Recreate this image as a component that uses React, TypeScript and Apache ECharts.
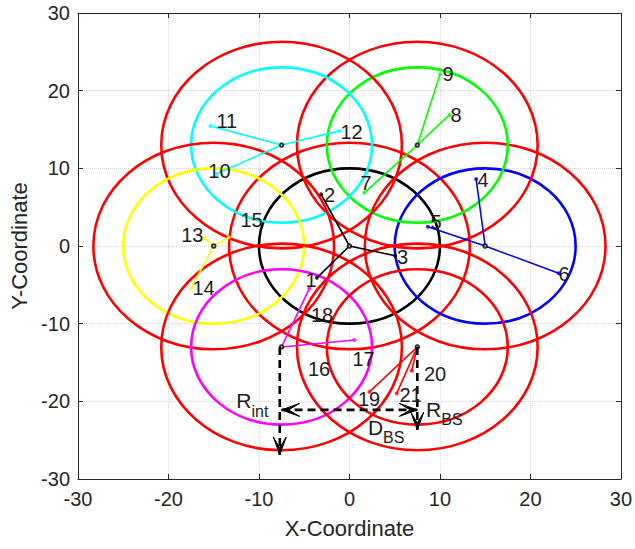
import React, { useEffect, useRef } from 'react';
import * as echarts from 'echarts';

const FONT = '"Liberation Sans", Arial, Helvetica, sans-serif';
const INK = '#262626';

// axis extent and ticks
const axisMin = -30;
const axisMax = 30;
const axisStep = 10;

// hexagonal cell layout: base station positions and cell colours
const cellX = [0, 15, 7.5, -7.5, -15, -7.5, 7.5];
const cellY = [0, 0, 13, 13, 0, -13, -13];
const cellColors = ['#000000', '#0000ff', '#00ff00', '#00ffff', '#ffff00', '#ff00ff', '#ff0000'];
const coverageRadius = 10;
const interferenceRadius = 13.3;
const interferenceColor = '#ff0000';

// users: id, serving cell, position
const userIds = [1, 2, 3, 4, 5, 6, 7, 8, 9, 10, 11, 12, 13, 14, 15, 16, 17, 18, 19, 20, 21];
const userCell = [0, 0, 0, 1, 1, 1, 2, 2, 2, 3, 3, 3, 4, 4, 4, 5, 5, 5, 6, 6, 6];
const userX = [-3.6, -3.13, 5.05, 14.0, 8.66, 23.13, 1.66, 11.05, 10.02, -14.73, -15.36, -1.1, -16.0, -17.5, -13.34, -7.5, 0.55, -4.42, 2.21, 6.88, 5.23];
const userY = [-4.1, 6.66, -1.25, 8.63, 2.49, -3.52, 6.87, 16.88, 22.13, 9.28, 15.46, 14.82, 0.99, -5.45, 1.12, -13.0, -12.11, -5.45, -18.78, -16.07, -18.98];
// where each user's number is written
const labelX = [-4.86, -2.82, 5.25, 14.14, 8.95, 23.1, 1.22, 11.16, 10.28, -15.6, -14.7, -1.0, -18.6, -17.35, -12.04, -4.59, 0.33, -4.25, 0.94, 8.23, 5.52];
const labelY = [-4.4, 6.57, -1.38, 8.5, 3.13, -3.6, 8.1, 16.9, 22.16, 9.7, 16.1, 14.7, 1.4, -5.45, 3.3, -15.8, -14.5, -8.9, -19.7, -16.5, -19.2];

// dimension arrows: interference radius, inter-site distance, cell radius
const dimStartX = [-7.7, -7.5, 7.5];
const dimStartY = [-13, -21.1, -13];
const dimEndX = [-7.7, 7.5, 7.5];
const dimEndY = [-26.9, -21.1, -23.7];
const dimHeadAtStart = [0, 1, 0];

const noteMain = ['R', 'R', 'D'];
const noteSub = ['int', 'BS', 'BS'];
const noteX = [-12.5, 8.47, 2.04];
const noteY = [-20.0, -21.1, -23.4];

function chevron(tip: number[], from: number[]) {
  const dx = tip[0] - from[0];
  const dy = tip[1] - from[1];
  const len = Math.hypot(dx, dy) || 1;
  const ux = dx / len;
  const uy = dy / len;
  const nx = -uy;
  const ny = ux;
  const L = 18;
  const W = 6.5;
  const notch = 7;
  return {
    type: 'polygon',
    shape: {
      points: [
        [tip[0], tip[1]],
        [tip[0] - L * ux + W * nx, tip[1] - L * uy + W * ny],
        [tip[0] - notch * ux, tip[1] - notch * uy],
        [tip[0] - L * ux - W * nx, tip[1] - L * uy - W * ny],
      ],
    },
    style: { fill: '#000000', stroke: '#000000', lineWidth: 1 },
  };
}

function buildOption() {
  const circleData: number[][] = [];
  cellX.forEach((cx, i) => {
    circleData.push([cx, cellY[i], interferenceRadius, -1]);
    circleData.push([cx, cellY[i], coverageRadius, i]);
  });

  const linkData = userIds.map((_, i) => {
    const c = userCell[i];
    return [cellX[c], cellY[c], userX[i], userY[i], c];
  });

  const userPoints = userIds.map((_, i) => ({
    value: [userX[i], userY[i]],
    itemStyle: { color: cellColors[userCell[i]] },
  }));

  const labelData = userIds.map((id, i) => [labelX[i], labelY[i], id]);
  const dimData = dimStartX.map((_, i) => [dimStartX[i], dimStartY[i], dimEndX[i], dimEndY[i], dimHeadAtStart[i]]);
  const noteData = noteMain.map((_, i) => [noteX[i], noteY[i], i]);

  const axisCommon = {
    type: 'value',
    min: axisMin,
    max: axisMax,
    interval: axisStep,
    axisLine: { show: true, onZero: false, lineStyle: { color: INK, width: 1 } },
    axisTick: { show: true, inside: true, length: 5, lineStyle: { color: INK, width: 1 } },
  };

  return {
    animation: false,
    backgroundColor: '#ffffff',
    grid: { left: 78, top: 13, right: 14, bottom: 70, containLabel: false },
    xAxis: [
      {
        ...axisCommon,
        position: 'bottom',
        axisLabel: { color: INK, fontSize: 20, fontFamily: FONT, margin: 10, showMinLabel: true, showMaxLabel: true },
        splitLine: { show: true, lineStyle: { type: 'dotted', color: '#d6d6d6', width: 1 } },
        name: 'X-Coordinate',
        nameLocation: 'middle',
        nameGap: 38,
        nameTextStyle: { color: INK, fontSize: 22, fontFamily: FONT },
      },
      {
        ...axisCommon,
        position: 'top',
        axisLabel: { show: false },
        splitLine: { show: false },
      },
    ],
    yAxis: [
      {
        ...axisCommon,
        position: 'left',
        axisLabel: { color: INK, fontSize: 20, fontFamily: FONT, margin: 8, showMinLabel: true, showMaxLabel: true },
        splitLine: { show: true, lineStyle: { type: 'dotted', color: '#d6d6d6', width: 1 } },
        name: 'Y-Coordinate',
        nameLocation: 'middle',
        nameGap: 45,
        nameTextStyle: { color: INK, fontSize: 22, fontFamily: FONT },
      },
      {
        ...axisCommon,
        position: 'right',
        axisLabel: { show: false },
        splitLine: { show: false },
      },
    ],
    series: [
      {
        name: 'cells',
        type: 'custom',
        coordinateSystem: 'cartesian2d',
        data: circleData,
        encode: { x: 0, y: 1 },
        renderItem: (params: any, api: any) => {
          const c = api.coord([api.value(0), api.value(1)]);
          const s = api.size([api.value(2), api.value(2)]);
          const idx = api.value(3);
          const color = idx < 0 ? interferenceColor : cellColors[idx];
          return {
            type: 'ellipse',
            shape: { cx: c[0], cy: c[1], rx: s[0], ry: s[1] },
            style: { fill: 'none', stroke: color, lineWidth: 2.6 },
          };
        },
        z: 2,
      },
      {
        name: 'links',
        type: 'custom',
        coordinateSystem: 'cartesian2d',
        data: linkData,
        encode: { x: 0, y: 1 },
        renderItem: (params: any, api: any) => {
          const a = api.coord([api.value(0), api.value(1)]);
          const b = api.coord([api.value(2), api.value(3)]);
          return {
            type: 'line',
            shape: { x1: a[0], y1: a[1], x2: b[0], y2: b[1] },
            style: { stroke: cellColors[api.value(4)], lineWidth: 1.6 },
          };
        },
        z: 3,
      },
      {
        name: 'users',
        type: 'scatter',
        symbol: 'circle',
        symbolSize: 4,
        data: userPoints,
        z: 4,
      },
      {
        name: 'base stations',
        type: 'scatter',
        symbol: 'emptyCircle',
        symbolSize: 3.5,
        itemStyle: { color: '#000000', borderColor: '#000000', borderWidth: 1.2 },
        data: cellX.map((x, i) => [x, cellY[i]]),
        z: 4,
      },
      {
        name: 'dimensions',
        type: 'custom',
        coordinateSystem: 'cartesian2d',
        data: dimData,
        encode: { x: 0, y: 1 },
        renderItem: (params: any, api: any) => {
          const a = api.coord([api.value(0), api.value(1)]);
          const b = api.coord([api.value(2), api.value(3)]);
          const both = api.value(4) === 1;
          const children: any[] = [
            {
              type: 'line',
              shape: { x1: a[0], y1: a[1], x2: b[0], y2: b[1] },
              style: { stroke: '#000000', lineWidth: 2.6, lineDash: [8, 5] },
            },
            chevron(b, a),
          ];
          if (both) children.push(chevron(a, b));
          return { type: 'group', children };
        },
        z: 5,
      },
      {
        name: 'user ids',
        type: 'custom',
        coordinateSystem: 'cartesian2d',
        data: labelData,
        encode: { x: 0, y: 1 },
        renderItem: (params: any, api: any) => {
          const p = api.coord([api.value(0), api.value(1)]);
          return {
            type: 'text',
            x: p[0],
            y: p[1],
            style: {
              text: String(api.value(2)),
              fill: '#1c1c1c',
              font: `20px ${FONT}`,
              align: 'left',
              verticalAlign: 'middle',
            },
          };
        },
        z: 6,
      },
      {
        name: 'notes',
        type: 'custom',
        coordinateSystem: 'cartesian2d',
        data: noteData,
        encode: { x: 0, y: 1 },
        renderItem: (params: any, api: any) => {
          const p = api.coord([api.value(0), api.value(1)]);
          const i = api.value(2);
          return {
            type: 'text',
            x: p[0],
            y: p[1],
            style: {
              text: `{m|${noteMain[i]}}{s|${noteSub[i]}}`,
              align: 'left',
              verticalAlign: 'middle',
              rich: {
                m: { fontSize: 21, fontFamily: FONT, fill: '#1c1c1c', lineHeight: 22, verticalAlign: 'top' },
                s: { fontSize: 16, fontFamily: FONT, fill: '#1c1c1c', lineHeight: 16, padding: [13, 0, 0, 0], verticalAlign: 'top' },
              },
            },
          };
        },
        z: 6,
      },
    ],
  };
}

export default function App() {
  const ref = useRef<HTMLDivElement>(null);
  useEffect(() => {
    document.body.style.margin = '0';
    const chart = echarts.init(ref.current as HTMLDivElement, null, { renderer: 'svg' });
    chart.setOption(buildOption() as any);
    return () => chart.dispose();
  }, []);
  return <div ref={ref} style={{ width: 635, height: 549 }} />;
}
